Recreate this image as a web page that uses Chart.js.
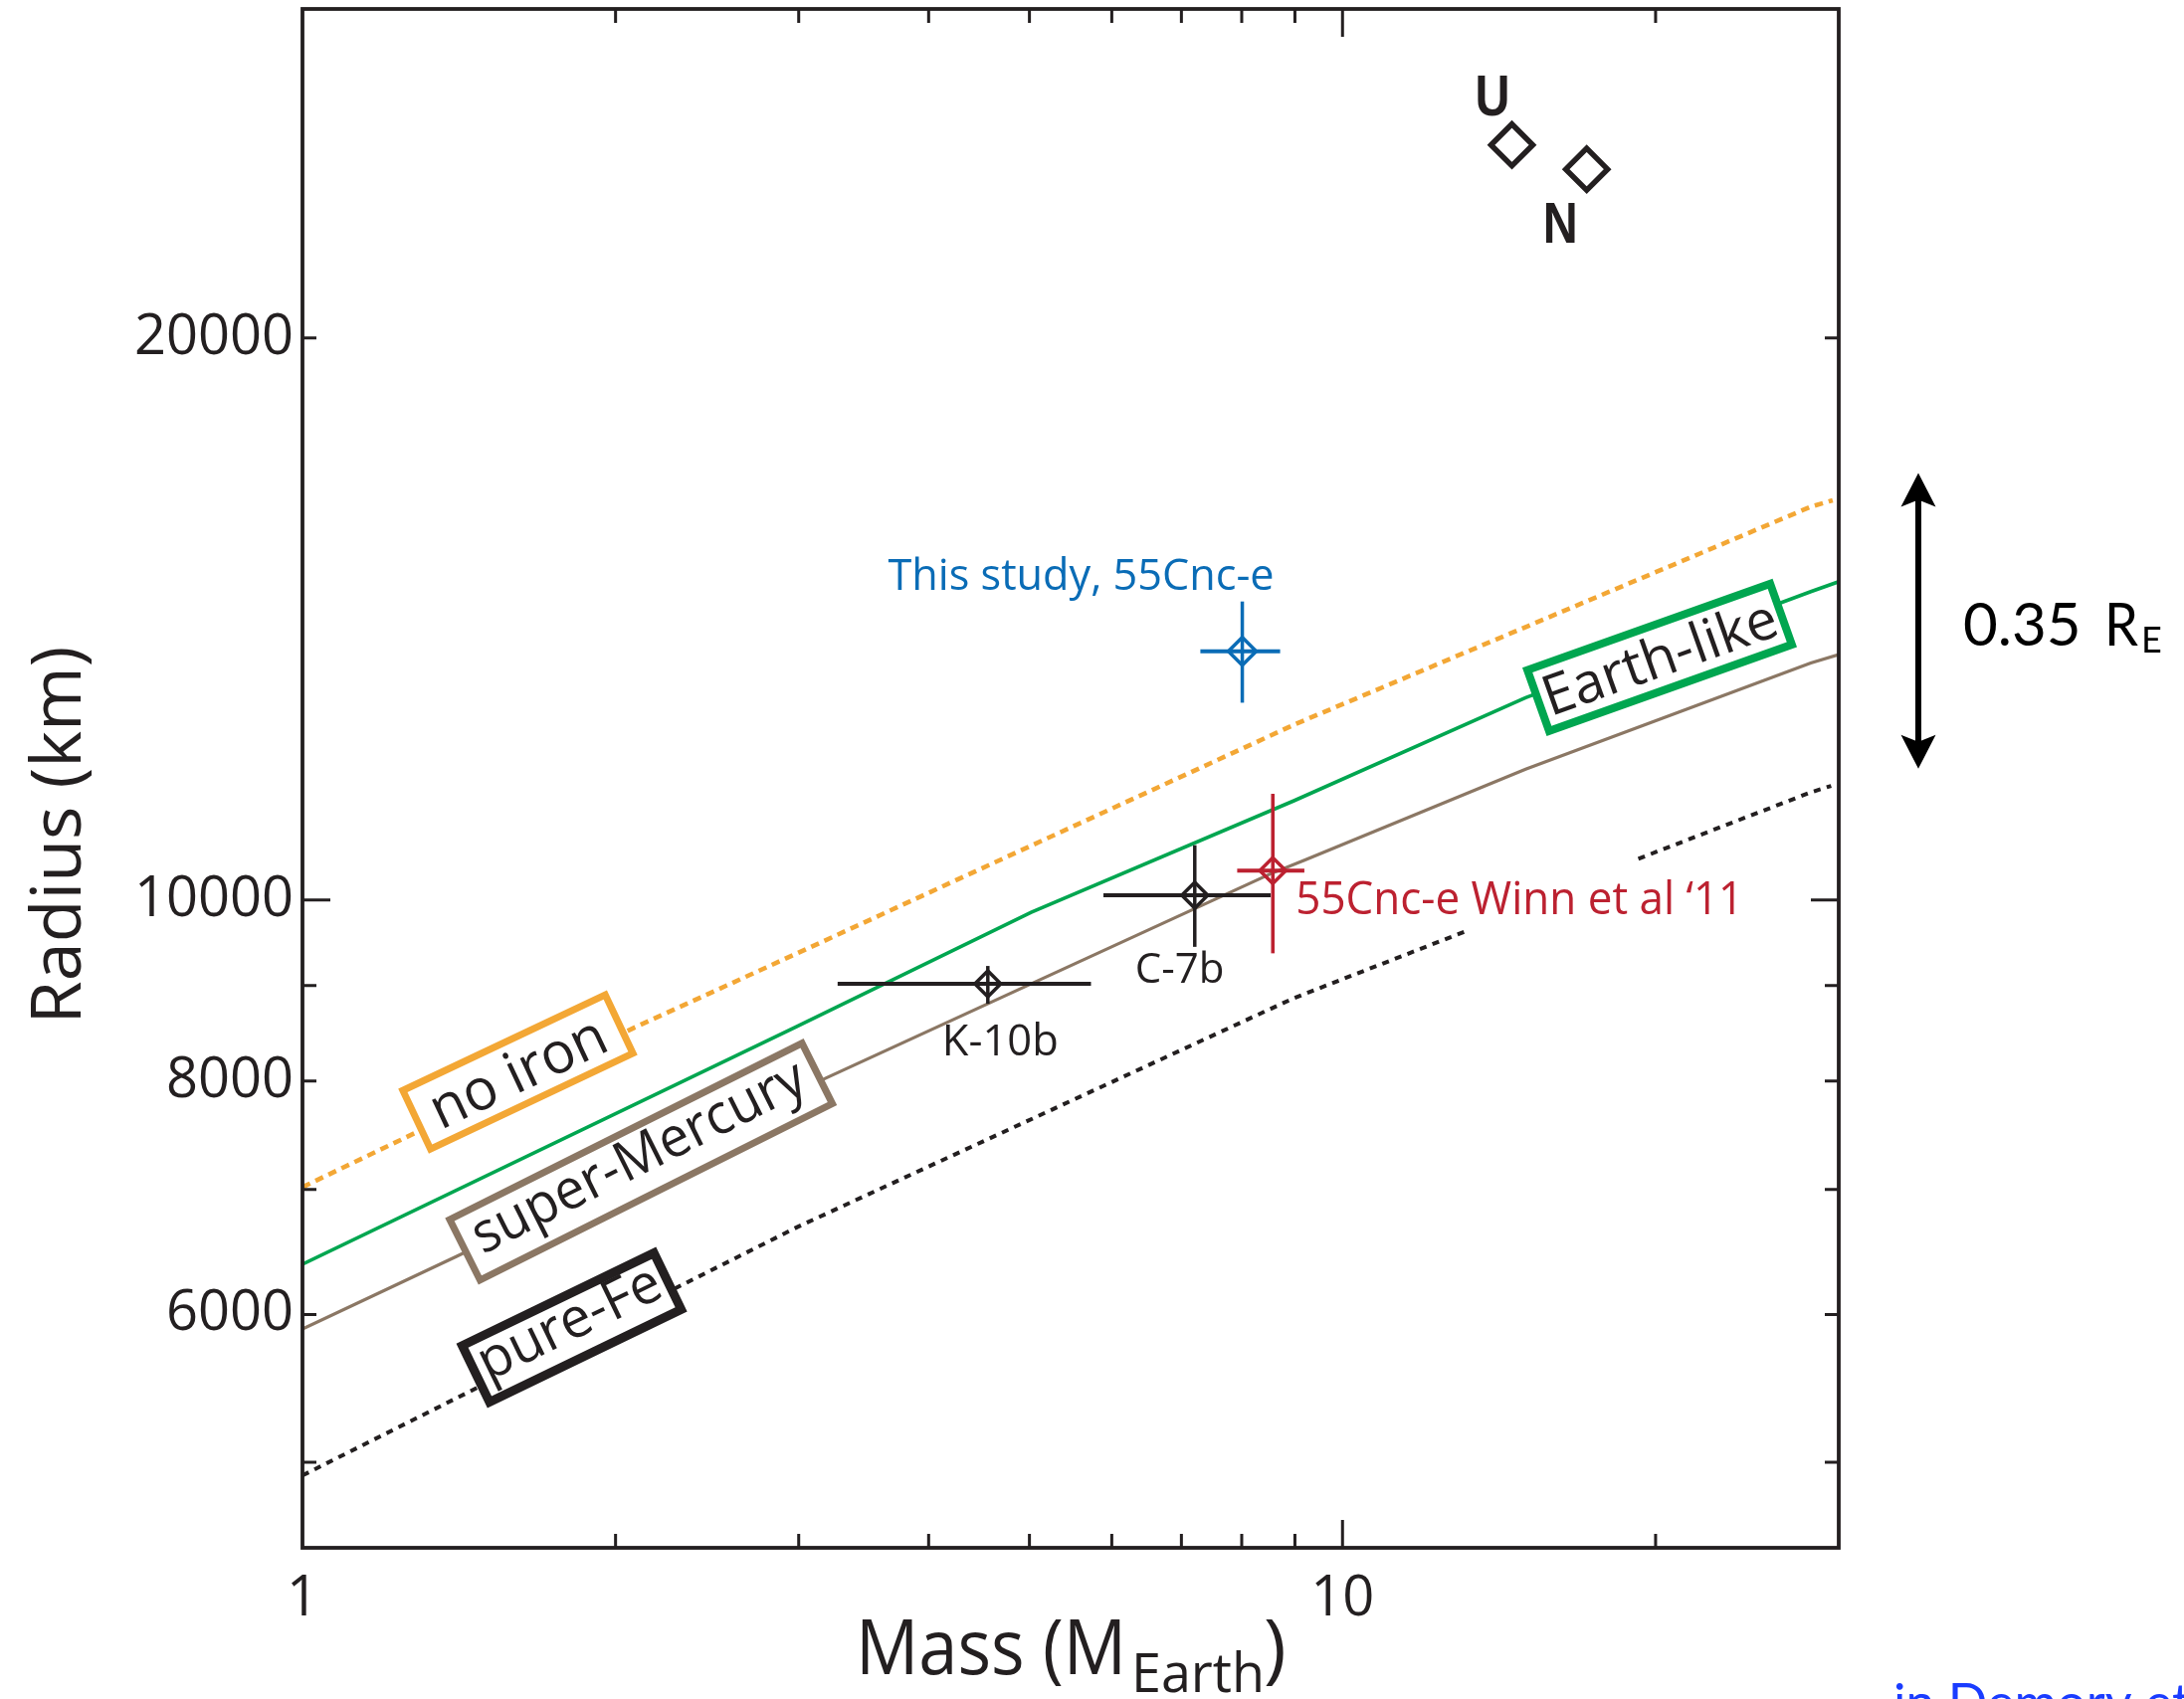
<!DOCTYPE html>
<html><head><meta charset="utf-8">
<script src="https://cdn.jsdelivr.net/npm/chart.js@4.4.1/dist/chart.umd.min.js"></script>
<style>html,body{margin:0;padding:0;background:#fff;overflow:hidden}canvas{display:block}</style>
</head><body>
<canvas id="c" width="2195" height="1708" style="width:2195px;height:1708px"></canvas>
<script>
// ---------------- data ----------------
const xTickLabels = [1, 10];
const xMinorTicks = [2, 3, 4, 5, 6, 7, 8, 9, 20];
const xMajorTicks = [10];
const yTickLabels = [6000, 8000, 10000, 20000];
const yMinorTicks = [5000, 6000, 7000, 8000, 9000, 20000];
const yMajorTicks = [10000];

// composition curves (mass in Earth masses, radius in km)
const noIronMass   = [1, 2.08, 2.99, 8.0, 9.0, 28.2, 29.6];
const noIronRadius = [7020, 8540, 9365, 12050, 12420, 16240, 16370];
const earthMass    = [1, 2.985, 5.02, 8.98, 15.0, 28.2, 30];
const earthRadius  = [6383, 8555, 9851, 11303, 12834, 14628, 14807];
const mercMass     = [1, 1.407, 3.189, 8.53, 9.18, 15.0, 28.2, 30];
const mercRadius   = [5894, 6446, 8032, 10330, 10500, 11752, 13395, 13535];
const feMass       = [1, 2.99, 8.98, 13.1, 15.9, 19.25, 28.2, 29.5];
const feRadius     = [4920, 6682, 8862, 9617, null, 10522, 11421, 11512];

// planets
const planetNames   = ['K-10b', 'C-7b', '55Cnc-e Winn et al \u201811', 'This study, 55Cnc-e', 'U', 'N'];
const planetMass    = [4.56, 7.21, 8.57, 8.01, 14.55, 17.17];
const planetRadius  = [9020, 10060, 10370, 13590, 25370, 24620];
const massLow       = [3.27, 5.89, 7.92, 7.30, null, null];
const massHigh      = [5.73, 8.53, 9.19, 8.71, null, null];
const radiusLow     = [8800, 9440, 9365, 12755, null, null];
const radiusHigh    = [9220, 10700, 11400, 14450, null, null];

// double arrow annotation span (km)
const arrowTopKm = 16930;
const arrowBottomKm = 11760;

// ---------------- styles ----------------
const INK = '#231F20', ORANGE = '#F3A735', GREEN = '#00A650', BROWN = '#8B7764',
      RED = '#BC2130', BLUE = '#0A6CB6';
const FONT = '"Open Sans", "Noto Sans", sans-serif';
const planetColors = [INK, INK, RED, BLUE, INK, INK];
const planetSizes  = [13, 13, 13, 14, 21, 21];
const planetStroke = [3.5, 3.5, 3.5, 3.5, 5.5, 5.5];

// label placement: offsets in px from the planet marker
const planetLabelStyle = [
  {dx: -46, dy: 72, size: 44, w: 117, color: INK, bold: false},
  {dx: -60, dy: 88, size: 42, w: 94, color: INK, bold: false},
  {dx: 23, dy: 44, size: 46, w: 450, color: RED, bold: false},
  {dx: -356, dy: -62, size: 44, w: 388, color: BLUE, bold: false},
  {dx: -37, dy: -30, size: 58, w: 35, color: INK, bold: true},
  {dx: -44, dy: 74, size: 58, w: 35, color: INK, bold: true}
];

// curve name boxes (anchored in data space)
const boxLabels = [
  {text: 'no iron',       m: 1.611, r: 8091,  angle: -25.3, w: 225, h: 65, color: ORANGE, lw: 7, size: 58, tw: 190},
  {text: 'super-Mercury', m: 2.116, r: 7244,  angle: -26.6, w: 396, h: 68, color: BROWN,  lw: 7, size: 56, tw: 368},
  {text: 'pure-Fe',       m: 1.815, r: 5904,  angle: -25.8, w: 214, h: 63, color: INK,    lw: 9, size: 56, tw: 198},
  {text: 'Earth-like',    m: 20.18, r: 13488, angle: -19.6, w: 259, h: 65, color: GREEN,  lw: 8, size: 56, tw: 248}
];

const toXY = (ms, rs) => ms.map((m, i) => ({x: m, y: rs[i]}));

const decorPlugin = {
  id: 'decor',
  beforeDatasetDraw(chart, args) {
    if (args.index !== 0) return;
    const {ctx, scales: {x, y}, chartArea: a} = chart;
    ctx.save();
    ctx.beginPath(); ctx.rect(a.left, a.top, a.right - a.left, a.bottom - a.top); ctx.clip();
    // boxes over the curves
    for (const b of boxLabels) {
      const cx = x.getPixelForValue(b.m), cy = y.getPixelForValue(b.r);
      ctx.save();
      ctx.translate(cx, cy); ctx.rotate(b.angle * Math.PI / 180);
      ctx.fillStyle = '#fff'; ctx.fillRect(-b.w / 2, -b.h / 2, b.w, b.h);
      ctx.lineWidth = b.lw; ctx.strokeStyle = b.color; ctx.lineJoin = 'miter';
      ctx.strokeRect(-b.w / 2, -b.h / 2, b.w, b.h);
      ctx.fillStyle = INK; ctx.font = b.size + 'px ' + FONT;
      ctx.textAlign = 'center'; ctx.textBaseline = 'alphabetic';
      const hasDesc = /[pyq]/.test(b.text);
      ctx.fillText(b.text, 0, b.size * (hasDesc ? 0.22 : 0.34), b.tw);
      ctx.restore();
    }
    // error bars
    ctx.lineCap = 'butt';
    planetMass.forEach((m, i) => {
      if (massLow[i] == null) return;
      const px = x.getPixelForValue(m), py = y.getPixelForValue(planetRadius[i]);
      ctx.strokeStyle = planetColors[i];
      ctx.lineWidth = 4;
      ctx.beginPath();
      ctx.moveTo(x.getPixelForValue(massLow[i]), py); ctx.lineTo(x.getPixelForValue(massHigh[i]), py);
      ctx.stroke();
      ctx.lineWidth = 3.5;
      ctx.beginPath();
      ctx.moveTo(px, y.getPixelForValue(radiusLow[i])); ctx.lineTo(px, y.getPixelForValue(radiusHigh[i]));
      ctx.stroke();
    });
    ctx.restore();
  },
  afterDraw(chart) {
    const {ctx, scales: {x, y}, chartArea: a} = chart;
    ctx.save();
    // frame
    ctx.strokeStyle = INK; ctx.lineWidth = 3.8;
    ctx.strokeRect(a.left, a.top, a.right - a.left, a.bottom - a.top);
    // inward ticks on all four sides
    ctx.lineWidth = 3;
    ctx.beginPath();
    const xt = xMinorTicks.map(v => [v, 14]).concat(xMajorTicks.map(v => [v, 28]));
    for (const [v, len] of xt) {
      const px = x.getPixelForValue(v);
      ctx.moveTo(px, a.bottom); ctx.lineTo(px, a.bottom - len);
      ctx.moveTo(px, a.top); ctx.lineTo(px, a.top + len);
    }
    const yt = yMinorTicks.map(v => [v, 14]).concat(yMajorTicks.map(v => [v, 28]));
    for (const [v, len] of yt) {
      const py = y.getPixelForValue(v);
      ctx.moveTo(a.left, py); ctx.lineTo(a.left + len, py);
      ctx.moveTo(a.right, py); ctx.lineTo(a.right - len, py);
    }
    ctx.stroke();

    // planet labels
    ctx.textAlign = 'left'; ctx.textBaseline = 'alphabetic';
    planetNames.forEach((name, i) => {
      const s = planetLabelStyle[i];
      const px = x.getPixelForValue(planetMass[i]), py = y.getPixelForValue(planetRadius[i]);
      ctx.fillStyle = s.color;
      ctx.font = (s.bold ? 'bold ' : '') + s.size + 'px ' + (s.bold ? '"Liberation Sans", Arial, sans-serif' : FONT);
      ctx.fillText(name, px + s.dx, py + s.dy, s.w);
    });

    // axis titles
    ctx.fillStyle = INK;
    const xc = (a.left + a.right) / 2;
    const xl = xc - 216, xb = a.bottom + 127;
    ctx.font = '77px ' + FONT;
    ctx.fillText('Mass (M', xl, xb, 272);
    ctx.font = '54px ' + FONT;
    ctx.fillText('Earth', xl + 277, xb + 18, 134);
    ctx.font = '77px ' + FONT;
    ctx.fillText(')', xl + 410, xb, 24);

    ctx.save();
    ctx.translate(81, (a.top + a.bottom) / 2 + 57);
    ctx.rotate(-Math.PI / 2);
    ctx.textAlign = 'center';
    ctx.font = '70px ' + FONT;
    ctx.fillText('Radius (km)', 0, 0, 392);
    ctx.restore();

    // double arrow + 0.35 R_E
    const ax = a.right + 80;
    const yT = y.getPixelForValue(arrowTopKm), yB = y.getPixelForValue(arrowBottomKm);
    ctx.fillStyle = '#000'; ctx.strokeStyle = '#000'; ctx.lineWidth = 6;
    ctx.beginPath(); ctx.moveTo(ax, yT + 25); ctx.lineTo(ax, yB - 25); ctx.stroke();
    ctx.beginPath();
    ctx.moveTo(ax, yT); ctx.lineTo(ax + 17.5, yT + 34); ctx.lineTo(ax, yT + 27); ctx.lineTo(ax - 17.5, yT + 34); ctx.closePath();
    ctx.moveTo(ax, yB); ctx.lineTo(ax + 17.5, yB - 34); ctx.lineTo(ax, yB - 27); ctx.lineTo(ax - 17.5, yB - 34); ctx.closePath();
    ctx.fill();
    const tb = (yT + yB) / 2 + 25;
    ctx.textAlign = 'left';
    ctx.font = '60px Lato, sans-serif';
    ctx.fillText('0.35', ax + 45, tb, 120);
    ctx.fillText('R', ax + 187, tb, 34);
    ctx.font = '36px Lato, sans-serif';
    ctx.fillText('E', ax + 224, tb + 7, 21);

    // clipped blue note at the bottom-right edge
    ctx.fillStyle = '#1A3CFF';
    ctx.font = '52px Lato, sans-serif';
    ctx.fillText('in Demory et al.', 1903, 1730);
    ctx.restore();
  }
};

const lineDs = (label, data, color, width, dash) => ({
  label, data, showLine: true, borderColor: color, borderWidth: width, borderDash: dash,
  borderCapStyle: 'butt', pointRadius: 0, fill: false, tension: 0, spanGaps: false
});

new Chart(document.getElementById('c'), {
  type: 'scatter',
  data: {
    datasets: [
      {
        label: 'planets',
        data: toXY(planetMass, planetRadius),
        pointStyle: 'rectRot',
        pointRadius: planetSizes,
        pointBorderWidth: planetStroke,
        pointBorderColor: planetColors,
        pointBackgroundColor: 'rgba(0,0,0,0)',
        showLine: false
      },
      lineDs('Earth-like', toXY(earthMass, earthRadius), GREEN, 3.6, []),
      lineDs('super-Mercury', toXY(mercMass, mercRadius), BROWN, 3.2, []),
      lineDs('no iron', toXY(noIronMass, noIronRadius), ORANGE, 4.6, [8.5, 6]),
      lineDs('pure-Fe', toXY(feMass, feRadius), INK, 4, [7, 6.5])
    ]
  },
  options: {
    responsive: false, animation: false, devicePixelRatio: 1,
    layout: {autoPadding: false, padding: {left: 0, right: 347, top: 9, bottom: 0}},
    plugins: {legend: {display: false}, tooltip: {enabled: false}},
    scales: {
      x: {
        type: 'logarithmic', min: 1, max: 30, position: 'bottom',
        grid: {display: false, drawTicks: false}, border: {display: false},
        ticks: {color: INK, font: {family: 'Open Sans', size: 56}, padding: 18, maxRotation: 0, autoSkip: false,
                callback: v => String(v)},
        afterBuildTicks: s => { s.ticks = xTickLabels.map(v => ({value: v})); },
        afterFit: s => { s.height = 152; s.paddingLeft = 0; s.paddingRight = 0; }
      },
      y: {
        type: 'logarithmic', min: 4500, max: 30000, position: 'left',
        grid: {display: false, drawTicks: false}, border: {display: false},
        ticks: {color: INK, font: {family: 'Open Sans', size: 56}, padding: 9, autoSkip: false,
                callback: v => String(v)},
        afterBuildTicks: s => { s.ticks = yTickLabels.map(v => ({value: v})); },
        afterFit: s => { s.width = 304; s.paddingTop = 0; s.paddingBottom = 0; }
      }
    }
  },
  plugins: [decorPlugin]
});
</script>
</body></html>
